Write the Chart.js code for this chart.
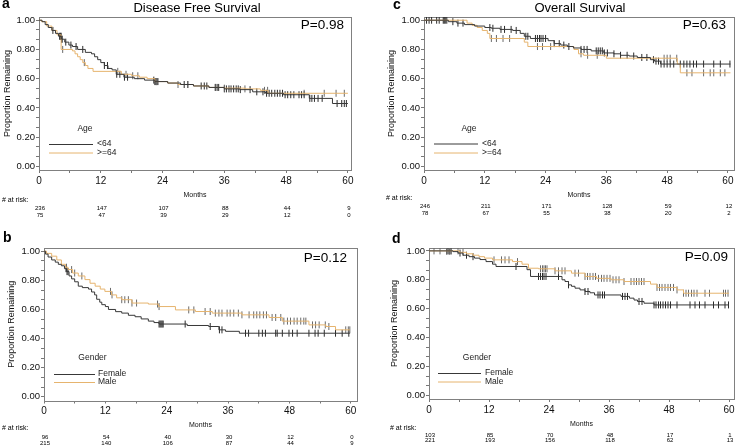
<!DOCTYPE html>
<html><head><meta charset="utf-8">
<script src="https://cdn.jsdelivr.net/npm/chart.js@4/dist/chart.umd.min.js"></script>
<style>
html,body{margin:0;padding:0;background:#fff;width:739px;height:447px;overflow:hidden;}
canvas{position:absolute;}
</style></head><body>
<canvas id="pa"></canvas><canvas id="pb"></canvas><canvas id="pc"></canvas><canvas id="pd"></canvas>
<script>
// ---------- tick labels ----------
const xTickLabels = ['0','12','24','36','48','60'];
const xLabelValues = [0,12,24,36,48,60];
const yTickLabels = ['0.00','0.20','0.40','0.60','0.80','1.00'];

// ---------- Panel a: Disease Free Survival by Age ----------
const dfsYoungT = [0,0.6,1.2,1.8,2.5,3.2,3.8,4.4,5.0,5.8,6.5,7.5,9.0,10.2,10.8,11.4,12.0,12.7,13.4,14.2,15.0,16.5,18.5,20.5,22.5,25.0,27.5,30.0,33.0,36.0,39.0,41.5,44.0,47.5,52.5,57.0,60.0];
const dfsYoungS = [1.0,0.99,0.97,0.95,0.93,0.91,0.89,0.87,0.85,0.83,0.82,0.80,0.78,0.77,0.75,0.73,0.71,0.69,0.67,0.66,0.63,0.61,0.60,0.59,0.58,0.57,0.56,0.55,0.54,0.53,0.525,0.51,0.50,0.49,0.465,0.43,0.43];
const dfsYoungCens = [2.7,4.0,4.2,4.3,4.4,4.5,5.2,6.2,7.2,8.5,12.7,13.3,15.1,15.7,16.6,17.2,22.3,22.5,22.7,22.9,23.1,28.2,28.9,31.5,32.1,32.6,34.3,34.6,34.9,36.0,36.4,36.9,37.3,37.8,38.3,38.7,39.1,41.0,42.3,43.5,44.2,44.7,45.2,45.8,46.3,46.8,47.3,47.8,48.3,48.9,49.5,50.5,51.0,51.5,52.6,53.0,53.5,54.2,55.0,57.9,58.8,59.3,59.7];
const dfsOldT = [0,0.5,1.5,2.5,3.5,4.3,6.5,7.0,7.5,8.0,8.5,9.0,9.5,10.5,16.0,18.0,19.5,21.0,22.5,25.0,27.0,30.0,33.0,36.0,40.0,43.0,44.5,60.0];
const dfsOldS = [1.0,0.99,0.96,0.93,0.90,0.80,0.79,0.77,0.75,0.73,0.71,0.69,0.67,0.65,0.63,0.62,0.61,0.60,0.58,0.57,0.56,0.55,0.54,0.535,0.53,0.52,0.50,0.50];
const dfsOldCens = [4.6,8.8,15.3,16.9,18.2,19.2,22.8,27.0,28.9,34.2,36.0,40.0,43.8,44.4,51.5,55.4,57.7,59.3];
const dfsAgeRiskYoung = [236,147,107,88,44,9];
const dfsAgeRiskOld = [75,47,39,29,12,0];

// ---------- Panel b: Disease Free Survival by Gender ----------
const dfsFemT = [0,0.3,0.8,1.5,2.2,2.8,3.4,4.0,4.4,4.9,5.4,6.0,6.7,7.5,8.7,9.3,9.9,10.3,10.9,11.3,12.0,12.6,14.0,15.2,16.5,17.8,19.0,20.4,21.5,22.5,28.0,32.2,34.2,35.5,38.2,59.8];
const dfsFemS = [1.0,0.98,0.96,0.94,0.925,0.91,0.90,0.88,0.86,0.83,0.81,0.79,0.76,0.75,0.74,0.72,0.70,0.67,0.65,0.633,0.62,0.60,0.585,0.575,0.56,0.55,0.535,0.52,0.51,0.50,0.49,0.483,0.46,0.45,0.437,0.437];
const dfsFemCens = [4.3,4.5,4.7,22.5,22.7,22.9,23.1,23.3,27.6,32.5,34.3,34.8,39.4,40.0,42.0,42.7,43.3,45.3,45.6,46.6,47.9,48.6,49.5,51.8,53.0,53.6,54.8,57.0,58.3,59.6];
const dfsMaleT = [0,0.5,1.5,2.5,3.4,4.2,4.7,5.6,6.7,8.0,9.0,10.0,11.0,11.9,13.2,14.2,15.2,17.2,20.4,22.4,25.7,29.6,32.9,38.7,44.0,46.6,51.8,55.1,57.0,59.8];
const dfsMaleS = [1.0,0.985,0.966,0.94,0.91,0.89,0.874,0.85,0.83,0.805,0.78,0.76,0.74,0.724,0.70,0.68,0.667,0.644,0.637,0.62,0.597,0.586,0.575,0.563,0.545,0.52,0.494,0.483,0.46,0.46];
const dfsMaleCens = [4.4,5.4,6.0,7.4,13.0,13.3,15.2,15.8,16.5,17.2,18.1,22.2,22.5,28.3,29.3,31.5,32.5,33.5,34.2,34.8,35.8,36.4,37.1,38.0,38.7,40.1,41.0,41.6,42.2,42.9,43.5,44.6,45.3,46.3,46.9,47.6,48.2,48.9,49.5,50.2,50.8,51.2,52.5,53.1,53.8,55.0,55.7,59.0,59.5,59.8];
const dfsGenRiskFem = [96,54,40,30,12,0];
const dfsGenRiskMale = [215,140,106,87,44,9];

// ---------- Panel c: Overall Survival by Age ----------
const osYoungT = [0,4.8,6.5,8.0,10.0,12.0,13.3,15.0,17.5,19.0,19.8,21.0,24.5,25.7,27.0,28.3,29.5,31.0,33.0,35.5,37.5,38.8,40.5,42.1,44.7,45.5,46.7,60.5];
const osYoungS = [1.0,0.99,0.98,0.97,0.96,0.95,0.945,0.937,0.93,0.91,0.89,0.875,0.86,0.84,0.83,0.82,0.81,0.80,0.79,0.776,0.77,0.76,0.755,0.745,0.73,0.72,0.70,0.70];
const osYoungCens = [0.5,1.0,1.5,2.5,3.0,3.8,4.0,4.2,4.5,5.7,6.7,7.7,13.0,13.6,15.2,15.9,17.2,18.2,20.1,20.5,22.0,22.4,22.8,23.1,23.5,24.0,25.7,26.7,27.6,28.6,31.0,31.6,32.2,34.0,34.4,34.8,35.2,35.6,36.2,37.5,38.8,40.1,41.4,43.0,44.0,45.3,45.8,46.3,46.8,47.4,48.0,48.6,49.3,50.6,51.3,51.9,52.5,53.2,53.8,55.2,57.2,58.5,60.4];
const osOldT = [0,8.5,9.5,10.5,11.5,12.5,13.0,19.8,20.5,29.6,30.5,31.5,36.0,50.0,50.6,60.5];
const osOldS = [1.0,0.98,0.965,0.95,0.93,0.91,0.875,0.85,0.82,0.80,0.77,0.76,0.74,0.70,0.64,0.64];
const osOldCens = [13.3,14.3,15.6,16.9,22.4,23.4,25.0,31.0,32.3,34.2,47.4,48.0,48.6,49.9,51.9,52.9,55.2,56.5,57.2,58.5,59.4];
const osAgeRiskYoung = [246,211,171,128,59,12];
const osAgeRiskOld = [78,67,55,38,20,2];

// ---------- Panel d: Overall Survival by Gender ----------
const osFemT = [0,4.8,5.8,6.8,8.0,9.1,10.2,11.4,12.7,13.4,19.6,20.3,26.6,27.2,27.9,28.5,29.2,30.2,31.2,32.2,33.1,38.4,40.1,41.0,41.7,43.0,45.0,60.0];
const osFemS = [1.0,0.995,0.985,0.97,0.96,0.95,0.94,0.926,0.908,0.892,0.87,0.823,0.80,0.788,0.765,0.755,0.742,0.73,0.719,0.71,0.695,0.685,0.673,0.66,0.65,0.638,0.626,0.626];
const osFemCens = [3.5,3.8,4.1,4.4,6.2,7.5,8.8,17.4,21.9,22.3,22.7,23.0,23.4,25.9,27.9,31.2,31.8,33.8,34.2,34.7,35.1,38.7,39.2,39.7,42.0,42.6,45.0,45.4,45.9,46.3,46.8,47.3,47.8,48.3,49.6,52.2,53.2,54.1,55.2,56.9,57.9,59.2,59.9];
const osMaleT = [0,6.1,7.5,8.8,10.0,11.1,12.7,16.7,18.6,19.9,21.9,25.2,28.5,31.2,33.5,36.4,39.0,44.3,45.6,49.6,50.9,60.0];
const osMaleS = [1.0,0.99,0.98,0.97,0.96,0.95,0.938,0.926,0.908,0.88,0.876,0.862,0.846,0.823,0.81,0.80,0.788,0.77,0.747,0.73,0.707,0.707];
const osMaleCens = [1.0,2.2,3.5,3.8,4.1,4.4,5.8,6.8,13.0,14.5,15.2,16.0,17.7,22.3,22.7,23.0,23.3,23.6,25.2,25.9,26.6,27.2,29.2,29.9,31.2,31.7,32.2,32.8,33.3,33.9,34.5,35.0,35.6,36.2,36.8,37.4,38.0,39.0,40.4,41.0,41.5,42.0,42.5,43.0,45.6,46.1,46.6,47.2,47.8,48.3,48.9,49.6,50.9,51.4,51.9,52.5,53.0,53.6,55.2,56.1,58.9,59.3,59.8];
const osGenRiskFem = [103,85,70,48,17,1];
const osGenRiskMale = [221,193,156,118,62,13];

// ---------- helpers ----------
const FONT = "'Liberation Sans', Arial, sans-serif";
Chart.defaults.font.family = FONT;
const DARK = '#383838', ORANGE = '#e6b46e';
const xTickValues = []; for (let m = 0; m <= 60; m += 6) xTickValues.push(m);
const yTickValues = []; for (let k = 0; k <= 15; k++) yTickValues.push(k / 15);

function steps(T, S) { return T.map((t, i) => ({x: t, y: S[i]})); }
function levelAt(T, S, t) { let v = S[0]; for (let i = 0; i < T.length; i++) { if (T[i] <= t) v = S[i]; } return v; }
function marks(T, S, C) { return C.map(c => ({x: c, y: levelAt(T, S, c)})); }

function makePanel(p) {
  const cv = document.getElementById(p.id);
  cv.width = p.w; cv.height = p.h;
  cv.style.left = p.left + 'px'; cv.style.top = p.top + 'px';
  cv.style.width = p.w + 'px'; cv.style.height = p.h + 'px';
  const frame = {
    id: 'frame_' + p.id,
    beforeDatasetsDraw(chart) {
      const a = chart.chartArea, c = chart.ctx;
      c.save(); c.strokeStyle = '#808080'; c.lineWidth = 1;
      c.strokeRect(Math.round(a.left) + 0.5, Math.round(a.top) + 0.5, Math.round(a.right - a.left), Math.round(a.bottom - a.top));
      c.restore();
    }
  };
  const texts = {
    id: 'texts_' + p.id,
    afterDraw(chart) {
      const c = chart.ctx, xs = chart.scales.x;
      c.save(); c.fillStyle = '#000'; c.textBaseline = 'middle';
      c.font = 'bold 14px ' + FONT; c.textAlign = 'left';
      c.fillText(p.letter, p.letterPos[0], p.letterPos[1]);
      if (p.title) { c.font = '13px ' + FONT; c.textAlign = 'center'; c.fillText(p.title, p.titlePos[0], p.titlePos[1]); }
      c.font = '13.5px ' + FONT; c.textAlign = 'right';
      c.fillText(p.pText, p.pPos[0], p.pPos[1]);
      c.font = '8.5px ' + FONT; c.textAlign = 'center'; c.fillStyle = '#222';
      c.fillText(p.legendTitle, p.legTitlePos[0], p.legTitlePos[1]);
      c.textAlign = 'left';
      [DARK, ORANGE].forEach((col, i) => {
        const y = p.legLineY[i];
        c.strokeStyle = col; c.lineWidth = 1;
        c.beginPath(); c.moveTo(p.legLineX[0], y + 0.5); c.lineTo(p.legLineX[1], y + 0.5); c.stroke();
        c.fillText(p.legendLabels[i], p.legLabelX, y);
      });
      c.font = '7px ' + FONT; c.textAlign = 'left'; c.fillStyle = '#000';
      c.fillText('# at risk:', p.riskLabelPos[0], p.riskLabelPos[1]);
      c.font = '6px ' + FONT; c.textAlign = 'center';
      [p.risk1, p.risk2].forEach((row, r) => {
        row.forEach((n, i) => {
          c.fillText(String(n), xs.getPixelForValue(xLabelValues[i]) + 1, p.riskY[r]);
        });
      });
      c.restore();
    }
  };
  const ds = [
    {data: steps(p.T1, p.S1), borderColor: DARK, borderWidth: 1, pointRadius: 0, stepped: 'before', fill: false},
    {data: steps(p.T2, p.S2), borderColor: ORANGE, borderWidth: 1, pointRadius: 0, stepped: 'before', fill: false},
    {data: marks(p.T2, p.S2, p.C2), showLine: false, pointStyle: 'line', rotation: 90, pointRadius: 3.5, pointBorderColor: '#6a6a6a', pointBorderWidth: 1, pointBackgroundColor: '#6a6a6a'},
    {data: marks(p.T1, p.S1, p.C1), showLine: false, pointStyle: 'line', rotation: 90, pointRadius: 3.5, pointBorderColor: '#2a2a2a', pointBorderWidth: 1, pointBackgroundColor: '#2a2a2a'}
  ];
  return new Chart(cv, {
    type: 'line',
    data: {datasets: ds},
    options: {
      responsive: false, animation: false, events: [],
      layout: {padding: p.pad},
      plugins: {legend: {display: false}, tooltip: {enabled: false}},
      scales: {
        x: {
          type: 'linear', min: 0, max: p.xMax,
          afterBuildTicks: s => { s.ticks = xTickValues.map(v => ({value: v})); },
          afterFit: s => { s.height = p.xH; },
          ticks: {autoSkip: false, maxRotation: 0, padding: 2, color: '#111', font: {size: 10},
            callback: v => { const i = xLabelValues.indexOf(v); return i >= 0 ? xTickLabels[i] : ''; }},
          grid: {drawOnChartArea: false, drawTicks: true, tickLength: 3, color: '#777'},
          border: {display: false},
          title: {display: true, text: 'Months', color: '#111', font: {size: 7}, padding: {top: 0, bottom: 0}}
        },
        y: {
          type: 'linear', min: -0.025, max: p.yMax,
          afterBuildTicks: s => { s.ticks = yTickValues.map(v => ({value: v})); },
          afterFit: s => { s.width = p.yW; },
          ticks: {autoSkip: false, padding: 1, color: '#111', font: {size: 9.5},
            callback: (v, i) => (i % 3 === 0 ? yTickLabels[i / 3] : '')},
          grid: {drawOnChartArea: false, drawTicks: true, tickLength: 3, color: '#777'},
          border: {display: false},
          title: {display: true, text: 'Proportion Remaining', color: '#111', font: {size: 9}, padding: {top: p.yTitlePad, bottom: 0}}
        }
      }
    },
    plugins: [frame, texts]
  });
}

makePanel({id: 'pa', left: 0, top: 0, w: 370, h: 225,
  pad: {left: 0, right: 19, top: 17, bottom: 26}, yW: 39, xH: 29, xMax: 60.6, yMax: 1.022, yTitlePad: 2,
  letter: 'a', letterPos: [2, 4], title: 'Disease Free Survival', titlePos: [197, 8],
  pText: 'P=0.98', pPos: [344, 25],
  legendTitle: 'Age', legTitlePos: [85, 128.5], legLineX: [49, 93], legLineY: [144, 152.5], legLabelX: 97, legendLabels: ['<64', '>=64'],
  riskLabelPos: [2, 200], riskY: [208.5, 215.5], risk1: dfsAgeRiskYoung, risk2: dfsAgeRiskOld,
  T1: dfsYoungT, S1: dfsYoungS, C1: dfsYoungCens, T2: dfsOldT, S2: dfsOldS, C2: dfsOldCens});

makePanel({id: 'pc', left: 384, top: 0, w: 355, h: 225,
  pad: {left: 0, right: 3, top: 17, bottom: 26}, yW: 40, xH: 29, xMax: 61.2, yMax: 1.022, yTitlePad: 2.3,
  letter: 'c', letterPos: [9, 5], title: 'Overall Survival', titlePos: [196, 8],
  pText: 'P=0.63', pPos: [342, 25],
  legendTitle: 'Age', legTitlePos: [85, 128.5], legLineX: [50, 94], legLineY: [143.5, 152.5], legLabelX: 98, legendLabels: ['<64', '>=64'],
  riskLabelPos: [2, 198], riskY: [206.5, 213.5], risk1: osAgeRiskYoung, risk2: osAgeRiskOld,
  T1: osYoungT, S1: osYoungS, C1: osYoungCens, T2: osOldT, S2: osOldS, C2: osOldCens});

makePanel({id: 'pb', left: 0, top: 225, w: 370, h: 222,
  pad: {left: 0, right: 13, top: 23, bottom: 18}, yW: 44, xH: 28.5, xMax: 61.2, yMax: 1.022, yTitlePad: 6.3,
  letter: 'b', letterPos: [3, 13], title: '', titlePos: [0, 0],
  pText: 'P=0.12', pPos: [347, 33],
  legendTitle: 'Gender', legTitlePos: [92.5, 132.5], legLineX: [54, 95], legLineY: [149, 157], legLabelX: 98, legendLabels: ['Female', 'Male'],
  riskLabelPos: [2, 203], riskY: [212, 218], risk1: dfsGenRiskFem, risk2: dfsGenRiskMale,
  T1: dfsFemT, S1: dfsFemS, C1: dfsFemCens, T2: dfsMaleT, S2: dfsMaleS, C2: dfsMaleCens});

makePanel({id: 'pd', left: 384, top: 225, w: 355, h: 222,
  pad: {left: 0, right: 1, top: 23, bottom: 19}, yW: 45, xH: 29, xMax: 61, yMax: 1.02, yTitlePad: 5.6,
  letter: 'd', letterPos: [8, 14], title: '', titlePos: [0, 0],
  pText: 'P=0.09', pPos: [344, 32],
  legendTitle: 'Gender', legTitlePos: [93, 132.5], legLineX: [54, 97], legLineY: [148, 156.5], legLabelX: 101, legendLabels: ['Female', 'Male'],
  riskLabelPos: [6, 203], riskY: [210, 215.5], risk1: osGenRiskFem, risk2: osGenRiskMale,
  T1: osFemT, S1: osFemS, C1: osFemCens, T2: osMaleT, S2: osMaleS, C2: osMaleCens});
</script>
</body></html>
